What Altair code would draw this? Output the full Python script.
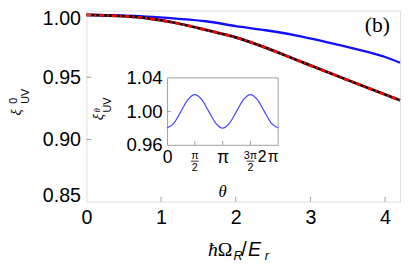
import altair as alt
import pandas as pd

# ---------------- data ----------------
omega = [0.0, 0.4, 0.8, 1.2, 1.6, 2.0, 2.4, 2.8, 3.2, 3.6, 4.0, 4.2]
xi_blue = [1.0000, 0.9995, 0.9986, 0.9970, 0.9949, 0.9910, 0.9877, 0.9836, 0.9784, 0.9727, 0.9662, 0.9616]
xi_red = [1.0000, 0.9992, 0.9974, 0.9935, 0.9880, 0.9820, 0.9737, 0.9642, 0.9547, 0.9453, 0.9360, 0.9314]

main_xticks = [1, 2, 3, 4]
main_yticks = [0.90, 0.95, 1.00]
main_xlabels = [0, 1, 2, 3, 4]
main_ylabels = [0.85, 0.90, 0.95, 1.00]

theta = [0.0, 0.3927, 0.7854, 1.1781, 1.5708, 1.9635, 2.3562, 2.7489, 3.1416,
         3.5343, 3.9270, 4.3197, 4.7124, 5.1051, 5.4978, 5.8905, 6.2832]
xi_theta = [0.980, 0.986, 1.000, 1.014, 1.020, 1.014, 1.000, 0.986, 0.980,
            0.986, 1.000, 1.014, 1.020, 1.014, 1.000, 0.986, 0.980]

inset_ticks = [1.5708, 3.1416, 4.7124]
inset_xlabel_vals = [0.0, 3.1416, 6.2832]
inset_ylabels = [0.96, 1.00, 1.04]
frac_theta = [1.5708, 4.7124]
frac_num = ["π", "3π"]
frac_den = ["2", "2"]

SANS = "Liberation Sans"
SERIF = "Liberation Serif"
GRAY = "#a0a0a0"

# ---------------- main panel ----------------
main_df = pd.DataFrame({"x": omega, "blue": xi_blue, "red": xi_red})
xs = alt.Scale(domain=[0, 4.2], nice=False, zero=False)
ys = alt.Scale(domain=[0.85, 1.0035], nice=False, zero=False)
ax_x = alt.Axis(values=main_xlabels, format="d", title=None, ticks=False, domain=False,
                grid=False, labelFont=SANS, labelFontSize=20, labelPadding=6, labelColor="black",
                labelFlush=False)
ax_y = alt.Axis(values=main_ylabels, format=".2f", title=None, ticks=False, domain=False,
                grid=False, labelFont=SANS, labelFontSize=20, labelPadding=6, labelColor="black",
                labelFlush=False,
                labelOffset={"condition": [{"test": "datum.value > 0.99", "value": 3.5},
                                           {"test": "datum.value < 0.86", "value": -6}],
                             "value": 0})

base = alt.Chart(main_df)
blue = base.mark_line(color="#1010ff", strokeWidth=2.4, interpolate="monotone").encode(
    x=alt.X("x:Q", scale=xs, axis=ax_x), y=alt.Y("blue:Q", scale=ys, axis=ax_y))
black = base.mark_line(color="black", strokeWidth=2.8, interpolate="monotone").encode(
    x=alt.X("x:Q", scale=xs, axis=ax_x), y=alt.Y("red:Q", scale=ys, axis=ax_y))
red = base.mark_line(color="#ff0000", strokeWidth=2.8, strokeDash=[5, 3, 2, 3],
                     interpolate="monotone").encode(
    x=alt.X("x:Q", scale=xs, axis=ax_x), y=alt.Y("red:Q", scale=ys, axis=ax_y))

xt = alt.Chart(pd.DataFrame({"x": main_xticks})).mark_rule(color=GRAY, y2Offset=-5).encode(
    x=alt.X("x:Q", scale=xs, axis=ax_x), y=alt.datum(0.85), y2=alt.datum(0.85))
yt = alt.Chart(pd.DataFrame({"blue": main_yticks})).mark_rule(color=GRAY, x2Offset=5).encode(
    y=alt.Y("blue:Q", scale=ys, axis=ax_y), x=alt.datum(0.0), x2=alt.datum(0.0))

one = pd.DataFrame({"a": [0]})


def txt(s, x, y, size, font=SANS, style="normal", angle=0, align="left", baseline="alphabetic"):
    return alt.Chart(one).mark_text(text=s, font=font, fontSize=size, fontStyle=style,
                                    angle=angle, align=align, baseline=baseline,
                                    color="black").encode(x=alt.value(x), y=alt.value(y))


labels = [
    txt("(b)", 284, 22, 22, SERIF),
    # x title  ħΩ_R / E_r
    txt("ħ", 124, 250, 20, SERIF, "italic"),
    txt("Ω", 134, 250, 20, SERIF),
    txt("R", 150, 255, 13, SANS, "italic"),
    txt("/", 158, 250, 20, SANS),
    txt("E", 165, 250, 20, SANS, "italic"),
    txt("r", 182, 255, 13, SANS, "italic"),
    # y title  ξ^0_UV
    txt("ξ", -67, 107, 15, SERIF, "italic", angle=270),
    txt("0", -71, 95, 11, SANS, angle=270),
    txt("UV", -59, 95, 11, SANS, angle=270),
]

main = alt.layer(blue, black, red, xt, yt, *labels)

# ---------------- inset ----------------
inset_df = pd.DataFrame({"theta": theta, "val": xi_theta})
ixs = alt.Scale(domain=[0, 6.2832], range=[82.3, 195.7], nice=False, zero=False)
iys = alt.Scale(domain=[0.96, 1.04], range=[137, 68.7], nice=False, zero=False)
iax_x = alt.Axis(orient="bottom", offset=-58, values=inset_xlabel_vals,
                 labelExpr="datum.value < 0.1 ? '0' : (datum.value < 4 ? 'π' : '2\u200aπ')",
                 labelAlign={"condition": {"test": "datum.value > 6", "value": "right"},
                             "value": "center"},
                 labelFontSize={"condition": {"test": "datum.value > 6", "value": 16},
                                "value": 18},
                 labelFlush=False,
                 ticks=False, domain=True, domainColor=GRAY, grid=False, title=None,
                 labelFont=SANS, labelPadding=4, labelColor="black")
iax_y = alt.Axis(orient="left", offset=-82.3, values=inset_ylabels, format=".2f",
                 ticks=False, domain=True, domainColor=GRAY, grid=False, title=None,
                 labelFont=SANS, labelFontSize=19, labelPadding=5, labelColor="black")

iline = alt.Chart(inset_df).mark_line(color="#4646ff", strokeWidth=1.2, interpolate="monotone").encode(
    x=alt.X("theta:Q", scale=ixs, axis=iax_x), y=alt.Y("val:Q", scale=iys, axis=iax_y))
itick = alt.Chart(pd.DataFrame({"theta": inset_ticks})).mark_rule(color=GRAY, y2Offset=-4).encode(
    x=alt.X("theta:Q", scale=ixs, axis=iax_x), y=alt.datum(0.96), y2=alt.datum(0.96))
iytick = alt.Chart(one).mark_rule(color=GRAY, x2Offset=4).encode(
    x=alt.datum(0.0), x2=alt.datum(0.0), y=alt.datum(1.0))
itop = alt.Chart(one).mark_rule(color=GRAY).encode(
    x=alt.datum(0.0), x2=alt.datum(6.2832), y=alt.datum(1.04))
iright = alt.Chart(one).mark_rule(color=GRAY).encode(
    x=alt.datum(6.2832), y=alt.datum(0.96), y2=alt.datum(1.04))

frac_df = pd.DataFrame({"theta": frac_theta, "num": frac_num, "den": frac_den})
fnum = alt.Chart(frac_df).mark_text(font=SANS, fontSize=11, baseline="alphabetic", color="black").encode(
    x=alt.X("theta:Q", scale=ixs, axis=iax_x), y=alt.value(151), text="num:N")
fden = alt.Chart(frac_df).mark_text(font=SANS, fontSize=11, baseline="alphabetic", color="black").encode(
    x=alt.X("theta:Q", scale=ixs, axis=iax_x), y=alt.value(164), text="den:N")
fbar = alt.Chart(frac_df).mark_rule(color="black", strokeWidth=0.8, xOffset=-4, x2Offset=4).encode(
    x=alt.X("theta:Q", scale=ixs, axis=iax_x), x2="theta:Q", y=alt.value(153.7))

ilabels = [
    txt("θ", 139, 190, 17, SERIF, "italic", align="center"),
    txt("ξ", 17, 112, 15, SERIF, "italic", angle=270),
    txt("θ", 14, 104, 9, SERIF, "italic", angle=270),
    txt("UV", 25, 104, 11, SANS, angle=270),
]

inset = alt.layer(iline, itick, iytick, itop, iright, fnum, fden, fbar, *ilabels)

chart = alt.layer(main, inset).resolve_scale(x="independent", y="independent").resolve_axis(
    x="independent", y="independent").properties(
    width=320, height=195,
    autosize=alt.AutoSizeParams(type="none"),
    padding={"left": 80, "top": 0, "right": 1, "bottom": 61},
).configure_view(stroke=GRAY, strokeWidth=1).configure(background="white")

chart.save("out.html", embed_options={"renderer": "svg", "actions": False})
